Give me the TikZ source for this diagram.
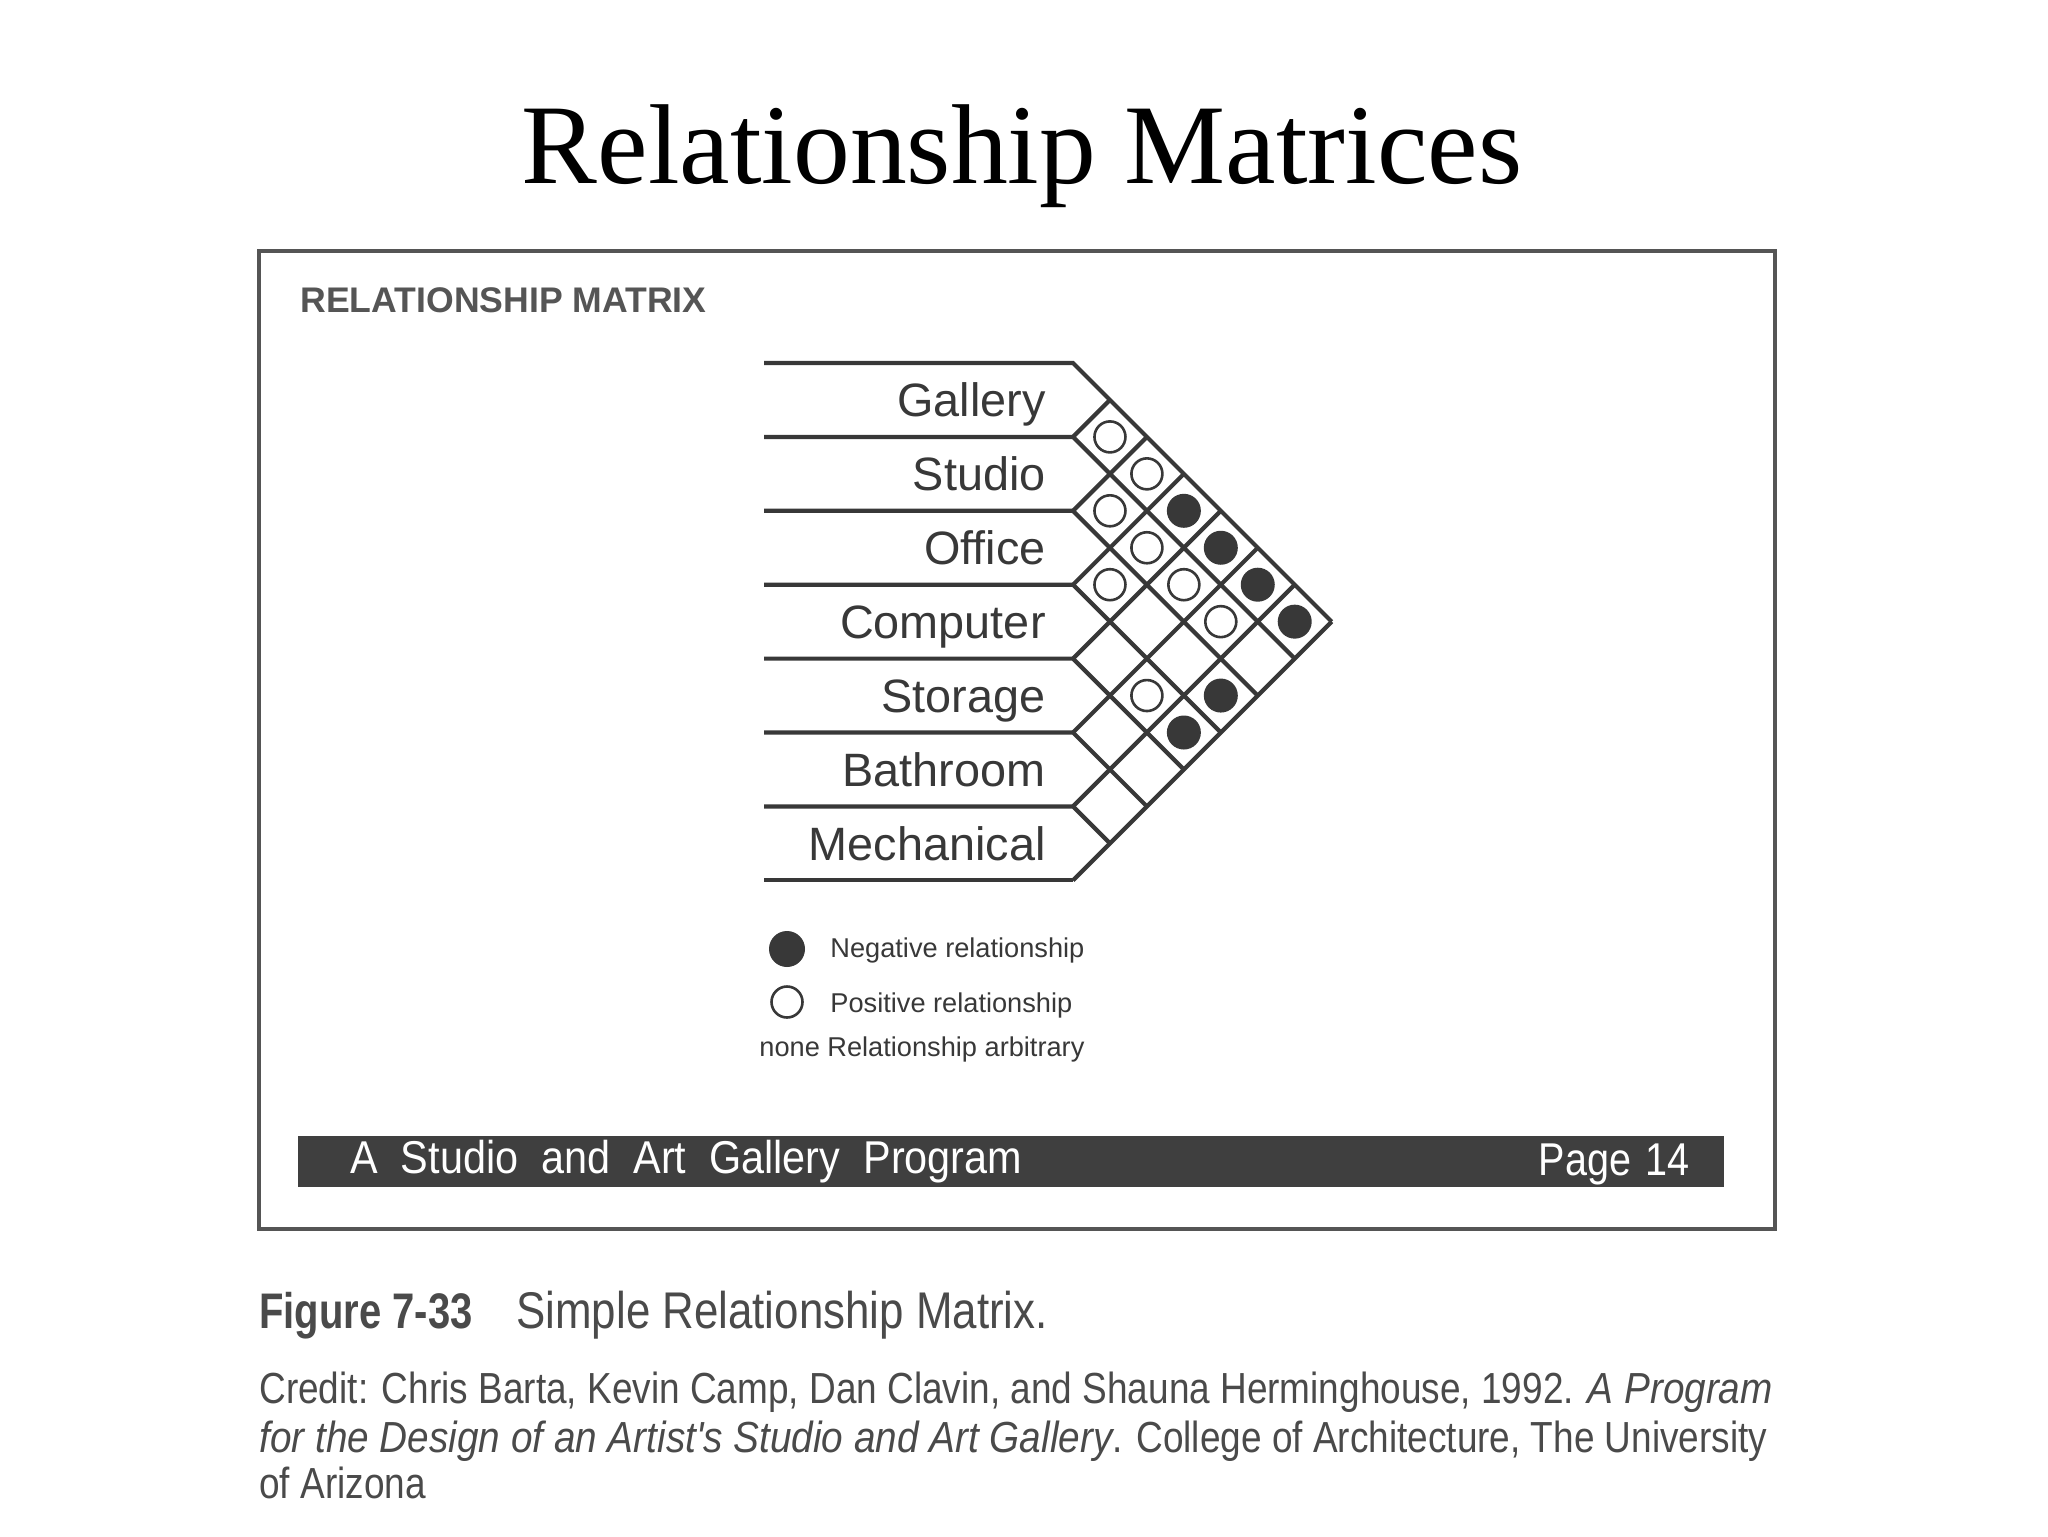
\documentclass[tikz,border=0pt]{standalone}
\usepackage{fontspec}
\setmainfont{Liberation Serif}
\setsansfont{Liberation Sans}
\newfontfamily\condfont[FakeStretch=0.85]{Liberation Sans}
\newfontfamily\conditfont[FakeStretch=0.89]{Liberation Sans Italic}
\newfontfamily\boldcondfont[FakeStretch=0.8]{Liberation Sans Bold}
\newfontfamily\barfont[FakeStretch=0.9, WordSpace=2.0]{Liberation Sans}
\newfontfamily\pagefont[FakeStretch=0.86, WordSpace=1.3]{Liberation Sans}
\definecolor{ink}{HTML}{383838}
\definecolor{framecol}{HTML}{555555}
\definecolor{barcol}{HTML}{3F3F3F}
\definecolor{capcol}{HTML}{4A4A4A}
\begin{document}
\begin{tikzpicture}[x=0.5pt,y=-0.5pt,
  grid/.style={draw=ink, line width=2.1pt, line join=miter},
  poscell/.style={circle, draw=ink, line width=1.3pt, fill=white, minimum size=15.5pt, inner sep=0pt},
  negcell/.style={circle, draw=ink, fill=ink, line width=1pt, minimum size=16pt, inner sep=0pt},
  rowlabel/.style={anchor=base east, inner sep=0pt, text=ink, font=\sffamily\fontsize{23.4}{26}\selectfont},
  legtext/.style={anchor=base west, inner sep=0pt, text=ink, font=\sffamily\fontsize{13.6}{15}\selectfont},
  bartext/.style={inner sep=0pt, text=white, font=\barfont\fontsize{23}{25}\selectfont},
  captext/.style={anchor=base west, inner sep=0pt, text=capcol, font=\condfont\fontsize{25}{28}\selectfont},
  credtext/.style={anchor=base west, inner sep=0pt, text=capcol, font=\condfont\fontsize{21.75}{24}\selectfont}
]
\useasboundingbox[fill=white] (0,0) rectangle (2048,1536);

% title
\node[anchor=base, inner sep=0pt, font=\fontsize{56.8}{60}\selectfont] (title) at (1022,183) {Relationship Matrices};

% frame
\draw[framecol, line width=1.6pt] (259,251) rectangle (1775,1229);
\node[anchor=base west, inner sep=0pt, text=framecol, font=\sffamily\bfseries\fontsize{17.8}{20}\selectfont] (head) at (300,312) {RELATIONSHIP MATRIX};

% matrix grid
\def\X{1073}
\def\Y{363}
\def\H{73.9}
\def\XL{764}
\foreach \k in {0,...,7} {
  \pgfmathsetmacro\yk{\Y+\k*\H}
  \pgfmathsetmacro\dn{(7-\k)*\H/2}
  \pgfmathsetmacro\up{\k*\H/2}
  \draw[grid] (\XL,\yk) -- (\X,\yk) -- ++(\dn,\dn);
  \draw[grid] (\X,\yk) -- ++(\up,-\up);
}

% row labels
\foreach \n [count=\i from 0] in {Gallery,Studio,Office,Computer,Storage,Bathroom,Mechanical} {
  \pgfmathsetmacro\yc{\Y+(\i+0.5)*\H+17}
  \node[rowlabel] (row\i) at (1046,\yc) {\n};
}

% positive cells
\foreach \i/\j in {0/1,0/2,1/2,1/3,2/3,1/4,1/5,3/5} {
  \pgfmathsetmacro\cx{\X+(\j-\i)*\H/2}
  \pgfmathsetmacro\cy{\Y+((\i+\j)/2+0.5)*\H}
  \node[poscell] (c\i\j) at (\cx,\cy) {};
}
% negative cells
\foreach \i/\j in {0/3,0/4,0/5,0/6,2/6,3/6} {
  \pgfmathsetmacro\cx{\X+(\j-\i)*\H/2}
  \pgfmathsetmacro\cy{\Y+((\i+\j)/2+0.5)*\H}
  \node[negcell] (c\i\j) at (\cx,\cy) {};
}

% legend
\node[negcell, minimum size=17pt] (legneg) at (787,949) {};
\node[legtext] (legnegt) at (830,957) {Negative relationship};
\node[poscell, minimum size=15.5pt] (legpos) at (787,1002) {};
\node[legtext] (legpost) at (830,1012) {Positive relationship};
\node[legtext] (legnone) at (759,1056) {none Relationship arbitrary};

% footer bar
\fill[barcol] (298,1136) rectangle (1724,1187);
\node[bartext, anchor=base west] (bar1) at (350,1173) {A Studio and Art Gallery Program};
\node[inner sep=0pt, text=white, font=\pagefont\fontsize{23}{25}\selectfont, anchor=base east] (bar2) at (1690,1175) {Page 14};

% caption
\node[anchor=base west, inner sep=0pt, text=capcol, font=\boldcondfont\fontsize{25}{28}\selectfont] (fig) at (259,1328) {Figure 7-33};
\node[captext] (figt) at (516,1328) {\fontsize{25.8}{28}\selectfont Simple Relationship Matrix.};
\node[credtext] (cr1) at (259,1403) {Credit: Chris Barta, Kevin Camp, Dan Clavin, and Shauna Herminghouse, 1992. {\conditfont A Program}};
\node[credtext] (cr2) at (259,1452) {{\conditfont for the Design of an Artist's Studio and Art Gallery}. College of Architecture, The University};
\node[credtext] (cr3) at (259,1498) {of Arizona};
\end{tikzpicture}
\end{document}
